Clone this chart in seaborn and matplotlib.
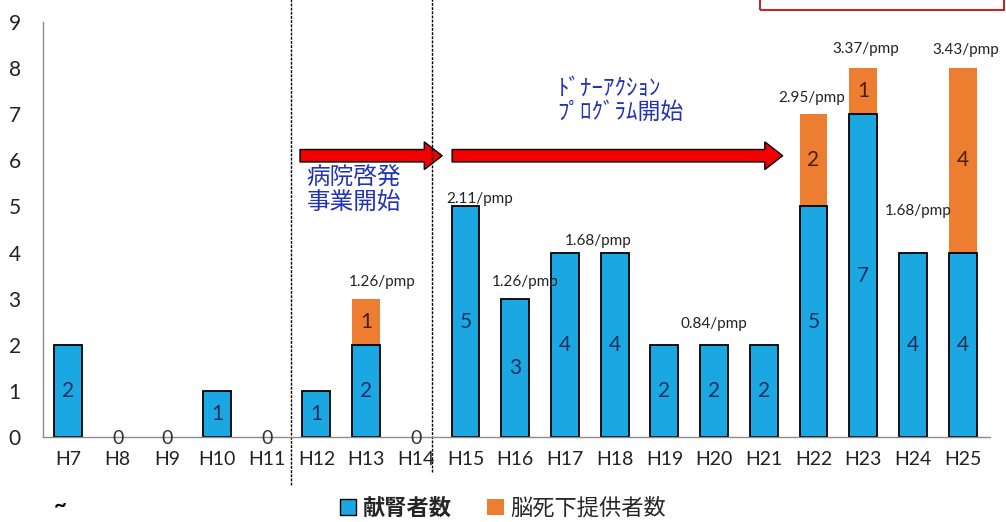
import matplotlib
matplotlib.use("Agg")
import numpy as np
import pandas as pd
import seaborn as sns
from matplotlib import pyplot as plt
from matplotlib.patches import Patch, FancyArrow, Rectangle

# data
years = ['H7', 'H8', 'H9', 'H10', 'H11', 'H12', 'H13', 'H14', 'H15', 'H16',
         'H17', 'H18', 'H19', 'H20', 'H21', 'H22', 'H23', 'H24', 'H25']
kidney_donors = [2, 0, 0, 1, 0, 1, 2, 0, 5, 3, 4, 4, 2, 2, 2, 5, 7, 4, 4]
brain_dead_donors = [0, 0, 0, 0, 0, 0, 1, 0, 0, 0, 0, 0, 0, 0, 0, 2, 1, 0, 4]

# per-million-population rates and the year each one sits over
pmp_years = ['H13', 'H15', 'H16', 'H17', 'H20', 'H22', 'H23', 'H24', 'H25']
pmp_rates = ['1.26', '2.11', '1.26', '1.68', '0.84', '2.95', '3.37', '1.68', '3.43']
# label offsets (x in categories, y in data units) from the bar top
pmp_offsets = [(0.32, 0.2), (0.29, 0.02), (0.2, 0.2), (0.67, 0.1), (0.0, 0.3),
               (-0.03, 0.2), (0.06, 0.26), (0.1, 0.75), (0.07, 0.24)]

blue = '#1AA7E2'
orange = '#ED7D31'

df = pd.DataFrame({'year': years, 'kidney': kidney_donors, 'brain': brain_dead_donors})
df['total'] = df['kidney'] + df['brain']

sns.set_theme(style="white")
plt.rcParams['font.family'] = ['Lato', 'Noto Sans CJK JP', 'DejaVu Sans']

fig = plt.figure(figsize=(10.06, 5.22), dpi=100)
ax = fig.add_axes([43 / 1006, 1 - 437 / 522, 947 / 1006, 415 / 522])

# stacked bars: totals in orange, kidney donors in blue on top of them
sns.barplot(data=df, x='year', y='total', color=orange, saturation=1, width=0.56,
            errorbar=None, linewidth=0, ax=ax, order=years)
sns.barplot(data=df, x='year', y='kidney', color=blue, saturation=1, width=0.56,
            errorbar=None, edgecolor='black', linewidth=1.3, ax=ax, order=years)
for p in ax.patches:
    if p.get_height() == 0:
        p.set_linewidth(0)

ax.set_xlim(-0.5, 18.55)
ax.set_ylim(0, 9)
ax.set_yticks(range(10))
ax.set_xlabel('')
ax.set_ylabel('')
for side in ['top', 'right']:
    ax.spines[side].set_visible(False)
for side in ['left', 'bottom']:
    ax.spines[side].set_color('#8c8c8c')
    ax.spines[side].set_linewidth(1)
ax.tick_params(axis='y', length=0, pad=16, labelsize=15, labelcolor='#222222')
ax.tick_params(axis='x', length=0, pad=10, labelsize=14, labelcolor='#222222')

# value labels inside segments
for i, (k, b) in enumerate(zip(kidney_donors, brain_dead_donors)):
    if k == 0 and b == 0:
        ax.text(i, -0.04, '0', ha='center', va='center', fontsize=14, color='#333333')
        continue
    if k > 0:
        ax.text(i, k / 2, str(k), ha='center', va='center', fontsize=15, color='#1E2F5C')
    if b > 0:
        ax.text(i, k + b / 2, str(b), ha='center', va='center', fontsize=15, color='#4A1E0E')

# pmp annotations
for yr, rate, (dx, dy) in zip(pmp_years, pmp_rates, pmp_offsets):
    i = years.index(yr)
    ax.text(i + dx, df['total'][i] + dy, rate + '/pmp', ha='center', va='bottom',
            fontsize=11, color='#222222')

# period separators
ax.plot([4.49, 4.49], [-1.05, 9.6], ls=(0, (2, 1)), lw=1, color='black', clip_on=False)
ax.plot([7.33, 7.33], [-0.75, 9.6], ls=(0, (2, 1)), lw=1, color='black', clip_on=False)

# program arrows
ax.add_patch(FancyArrow(4.67, 6.1, 2.86, 0, width=0.27, head_width=0.6, head_length=0.36,
                        length_includes_head=True, fc='#F00000', ec='black', lw=1, clip_on=False))
ax.add_patch(FancyArrow(7.73, 6.1, 6.65, 0, width=0.27, head_width=0.6, head_length=0.36,
                        length_includes_head=True, fc='#F00000', ec='black', lw=1, clip_on=False))

ax.text(4.8, 5.36, '病院啓発\n事業開始', ha='left', va='center', fontsize=17,
        color='#2233B8', linespacing=1.15)
ax.text(9.85, 7.3, 'ﾄﾞﾅｰｱｸｼｮﾝ\nﾌﾟﾛｸﾞﾗﾑ開始', ha='left', va='center', fontsize=16.5,
        color='#2233B8', linespacing=1.15)

# red box cut off at the top right
fig.add_artist(Rectangle((760 / 1006, 1 - 10 / 522), 244 / 1006, 0.05,
                         transform=fig.transFigure, fill=False, ec='#C0282E', lw=1.5))

fig.text(60 / 1006, 1 - 505 / 522, '~', ha='center', va='center', fontsize=16,
         fontweight='bold', color='black')

handles = [Patch(facecolor=blue, edgecolor='black', lw=1),
           Patch(facecolor=orange, edgecolor='none')]
leg = fig.legend(handles, ['献腎者数', '脳死下提供者数'], loc='center',
                 bbox_to_anchor=(503 / 1006, 1 - 508 / 522), ncol=2, frameon=False,
                 fontsize=16, handlelength=0.75, handleheight=0.75, handletextpad=0.3,
                 columnspacing=1.6)
leg.get_texts()[0].set_fontweight('bold')

fig.savefig('out.png', dpi=100)
